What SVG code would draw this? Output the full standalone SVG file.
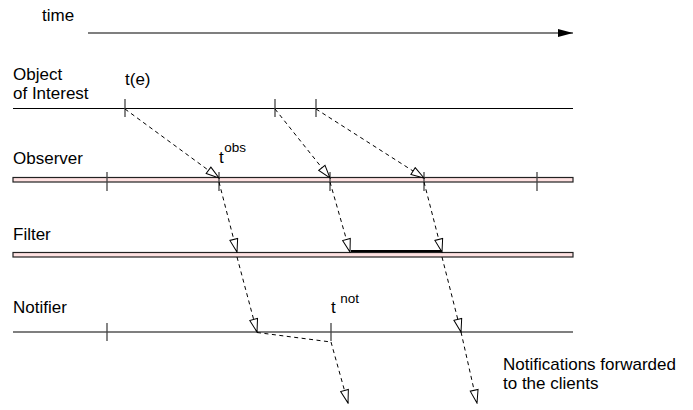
<svg xmlns="http://www.w3.org/2000/svg" width="693" height="410" viewBox="0 0 693 410">
  <defs>
    <style>
      text { font-family: "Liberation Sans", Arial, sans-serif; font-size: 17px; fill: #000; }
      .sup { font-size: 13.5px; }
      .line { stroke: #000; stroke-width: 1.2; fill: none; }
      .bar { fill: #ffe2e2; stroke: #222; stroke-width: 1.2; }
      .tick { stroke: #444; stroke-width: 1.3; }
      .msg { stroke: #000; stroke-width: 1; fill: none; stroke-dasharray: 4 3.5; }
      .msg-arrow { marker-end: url(#openHead); }
    </style>
    <marker id="openHead" viewBox="0 0 15 10" markerWidth="15" markerHeight="10" refX="14" refY="5" orient="auto" markerUnits="userSpaceOnUse">
      <path d="M1,1 L14,5 L1,9 Z" fill="#fff" stroke="#000" stroke-width="1" stroke-dasharray="none"/>
    </marker>
    <marker id="solidHead" viewBox="0 0 16 10" markerWidth="16" markerHeight="10" refX="15" refY="5" orient="auto" markerUnits="userSpaceOnUse">
      <path d="M0,1 L15,5 L0,9 Z" fill="#000"/>
    </marker>
  </defs>

  <!-- time axis -->
  <g id="time-axis">
    <text x="42" y="20.5">time</text>
    <line x1="88" y1="33" x2="573" y2="33" stroke="#000" stroke-width="1.2" marker-end="url(#solidHead)"/>
  </g>

  <!-- object of interest lane -->
  <g id="object-of-interest">
    <text x="13" y="80">Object</text>
    <text x="13" y="99">of Interest</text>
    <line class="line" x1="13" y1="108.5" x2="573" y2="108.5"/>
    <line class="tick" x1="125" y1="99" x2="125" y2="117"/>
    <line class="tick" x1="275" y1="99" x2="275" y2="117"/>
    <line class="tick" x1="316" y1="99" x2="316" y2="117"/>
    <text x="125" y="85">t(e)</text>
  </g>

  <!-- observer lane -->
  <g id="observer">
    <text x="13" y="164">Observer</text>
    <rect class="bar" x="13" y="177.5" width="560" height="4.5"/>
    <line class="tick" x1="107" y1="172" x2="107" y2="191"/>
    <line class="tick" x1="219" y1="172" x2="219" y2="191"/>
    <line class="tick" x1="330" y1="172" x2="330" y2="191"/>
    <line class="tick" x1="424" y1="172" x2="424" y2="191"/>
    <line class="tick" x1="537" y1="172" x2="537" y2="191"/>
    <text x="219" y="163">t<tspan class="sup" dx="0.5" dy="-11.5">obs</tspan></text>
  </g>

  <!-- filter lane -->
  <g id="filter">
    <text x="13" y="240">Filter</text>
    <rect class="bar" x="13" y="252.5" width="560" height="4.5"/>
    <line x1="351" y1="251" x2="442" y2="251" stroke="#000" stroke-width="2.2"/>
  </g>

  <!-- notifier lane -->
  <g id="notifier">
    <text x="13" y="313">Notifier</text>
    <line class="line" x1="13" y1="332" x2="573" y2="332"/>
    <line class="tick" x1="107" y1="323" x2="107" y2="341"/>
    <line class="tick" x1="331" y1="323" x2="331" y2="341"/>
    <text x="331" y="313">t<tspan class="sup" dx="4.5" dy="-10">not</tspan></text>
  </g>

  <!-- clients -->
  <g id="clients">
    <text x="503" y="370">Notifications forwarded</text>
    <text x="503" y="389">to the clients</text>
  </g>

  <!-- messages between lanes -->
  <g id="connectors">
    <line class="msg msg-arrow" x1="125" y1="109" x2="219" y2="178"/>
    <line class="msg msg-arrow" x1="275" y1="109" x2="330" y2="178"/>
    <line class="msg msg-arrow" x1="316" y1="109" x2="424" y2="178"/>
    <line class="msg msg-arrow" x1="219" y1="182" x2="237" y2="252"/>
    <line class="msg msg-arrow" x1="330" y1="182" x2="350" y2="252"/>
    <line class="msg msg-arrow" x1="424" y1="182" x2="442" y2="252"/>
    <line class="msg msg-arrow" x1="237" y1="257" x2="257" y2="332"/>
    <line class="msg" x1="257" y1="332.5" x2="331" y2="342"/>
    <line class="msg msg-arrow" x1="331" y1="342" x2="348" y2="403"/>
    <line class="msg msg-arrow" x1="442" y1="257" x2="461" y2="332"/>
    <line class="msg msg-arrow" x1="461" y1="332" x2="477" y2="403"/>
  </g>
</svg>
